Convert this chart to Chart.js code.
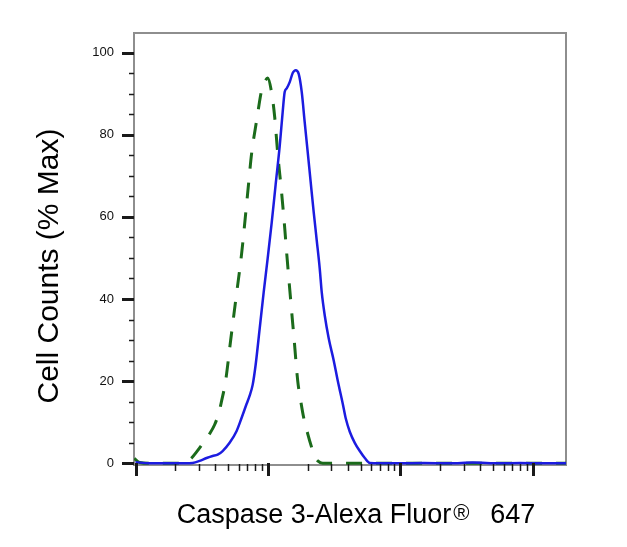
<!DOCTYPE html>
<html>
<head>
<meta charset="utf-8">
<script src="https://cdn.jsdelivr.net/npm/chart.js@4"></script>
<style>
html,body{margin:0;padding:0;background:#ffffff;}
#wrap{width:627px;height:547px;}
</style>
</head>
<body>
<div id="wrap"><canvas id="c" width="627" height="547"></canvas></div>
<script>
// ---- data ----
const controlX = [9.8, 10.72, 12.76, 22.0, 24.72, 26.5, 28.91, 32.1, 36.25, 39.55, 42.41, 44.67, 47.89, 52.24, 57.0, 63.27, 70.23, 75.3, 82.15, 89.65, 94.43, 99.47, 106.7, 112.4, 118.4, 126.9, 133.7, 138.5, 148.5, 157.8, 167.7, 176.7, 186.1, 199.6, 214.0, 225.4, 237.5, 259.2, 989.7, 17780];
const controlY = [1.2, 0.2, 0, 0, 0.4, 1.3, 2.8, 4.8, 7.2, 9.4, 12.1, 15.2, 20.1, 29.9, 39.6, 51.1, 65.7, 75.5, 83.5, 90.9, 92.8, 93.8, 90.1, 84.3, 75.5, 65.7, 57.4, 51.1, 39.6, 29.9, 20.1, 15.2, 11.1, 7.2, 3.8, 1.6, 0.6, 0, 0, 0];

const stainedX = [10, 12.76, 18.07, 23.46, 26.97, 30.46, 34.41, 38.19, 41.67, 45.47, 51.34, 58.0, 63.27, 69.02, 72.73, 76.63, 80.72, 86.56, 92.79, 99.47, 106.7, 114.3, 122.6, 129.1, 133.7, 138.5, 145.9, 153.7, 162.0, 170.6, 179.8, 189.4, 199.6, 210.2, 221.5, 233.4, 245.9, 254.7, 268.3, 287.6, 313.8, 336.4, 366.9, 386.7, 414.6, 452.1, 493.3, 538.2, 587.1, 698.9, 989.7, 1500, 2363, 3500, 5640, 8000, 12000, 17780];
const stainedY = [0.3, 0, 0, 0, 0.1, 0.6, 1.3, 1.8, 2.1, 3.0, 5.0, 7.9, 11.1, 14.5, 16.5, 19.1, 24.0, 32.8, 41.6, 49.9, 58.6, 67.9, 77.2, 85.5, 90.4, 91.3, 92.8, 95.0, 95.7, 94.8, 90.4, 83.0, 75.7, 68.4, 61.1, 54.3, 47.4, 41.6, 36.0, 30.4, 25.0, 20.1, 14.5, 10.9, 7.7, 5.0, 3.0, 1.3, 0.1, 0, 0, 0.1, 0, 0.2, 0, 0.1, 0, 0];

const yTickValues = [0,5,10,15,20,25,30,35,40,45,50,55,60,65,70,75,80,85,90,95,100];
const yLabelValues = [0,20,40,60,80,100];
const xMajorTicks = [10,100,1000,10000];
const xMinorTicks = [20,30,40,50,60,70,80,90,200,300,400,500,600,700,800,900,2000,3000,4000,5000,6000,7000,8000,9000];

const xTitleMain = 'Caspase 3-Alexa Fluor';
const xTitleMark = '®';
const xTitleTail = '647';
const yTitle = 'Cell Counts (% Max)';

const FONT = '"Liberation Sans", Arial, Helvetica, sans-serif';

const decorPlugin = {
  id: 'decor',
  beforeDatasetsDraw(chart) {
    const {ctx, chartArea: a} = chart;
    ctx.save();
    ctx.strokeStyle = '#8e8e8e';
    ctx.lineWidth = 2;
    ctx.strokeRect(a.left, a.top, a.right - a.left, a.bottom - a.top);
    ctx.restore();
  },
  afterDraw(chart) {
    const {ctx, chartArea: a} = chart;
    const xs = chart.scales.x, ys = chart.scales.y;
    ctx.save();
    ctx.strokeStyle = '#1a1a1a';
    ctx.lineCap = 'butt';
    // x ticks
    xMinorTicks.forEach(v => {
      const px = Math.round(xs.getPixelForValue(v)) + 0.5;
      ctx.lineWidth = 1.5;
      ctx.beginPath(); ctx.moveTo(px, a.bottom - 1); ctx.lineTo(px, a.bottom + 6); ctx.stroke();
    });
    xMajorTicks.forEach(v => {
      const px = Math.round(xs.getPixelForValue(v)) + 0.5;
      ctx.lineWidth = 3;
      ctx.beginPath(); ctx.moveTo(px, a.bottom - 2); ctx.lineTo(px, a.bottom + 11); ctx.stroke();
    });
    // y ticks
    yTickValues.forEach(v => {
      const py = Math.round(ys.getPixelForValue(v)) + 0.5;
      const major = yLabelValues.includes(v);
      ctx.lineWidth = major ? 3 : 1.5;
      ctx.beginPath(); ctx.moveTo(a.left - (major ? 12 : 5), py); ctx.lineTo(a.left, py); ctx.stroke();
    });
    // x title
    ctx.fillStyle = '#000000';
    ctx.textBaseline = 'alphabetic';
    ctx.textAlign = 'left';
    ctx.font = '27px ' + FONT;
    const wMain = ctx.measureText(xTitleMain).width;
    const wTail = ctx.measureText(xTitleTail).width;
    const markStep = 37;
    const total = wMain + 2 + markStep + wTail;
    const x0 = (a.left + a.right) / 2 + 6 - total / 2;
    const base = 523;
    ctx.fillText(xTitleMain, x0, base);
    ctx.font = '22px ' + FONT;
    ctx.fillText(xTitleMark, x0 + wMain + 2, base - 3.5);
    ctx.font = '27px ' + FONT;
    ctx.fillText(xTitleTail, x0 + wMain + 2 + markStep, base);
    // y title
    ctx.save();
    ctx.translate(50, (a.top + a.bottom) / 2 + 17);
    ctx.rotate(-Math.PI / 2);
    ctx.textAlign = 'center';
    ctx.textBaseline = 'middle';
    ctx.font = '30px ' + FONT;
    ctx.fillText(yTitle, 0, 0);
    ctx.restore();
    ctx.restore();
  }
};

new Chart(document.getElementById('c'), {
  type: 'line',
  data: {
    datasets: [
      {
        label: 'Control',
        data: controlX.map((x, i) => ({x: x, y: controlY[i]})),
        borderColor: '#1b6b1b',
        borderWidth: 3,
        borderDash: [16, 14],
        pointRadius: 0,
        fill: false,
        cubicInterpolationMode: 'monotone',
        order: 1
      },
      {
        label: 'Caspase 3',
        data: stainedX.map((x, i) => ({x: x, y: stainedY[i]})),
        borderColor: '#1c1ce0',
        borderWidth: 2.5,
        pointRadius: 0,
        fill: false,
        cubicInterpolationMode: 'monotone',
        order: 0
      }
    ]
  },
  options: {
    responsive: false,
    animation: false,
    layout: {padding: {top: 33, right: 61, left: 0, bottom: 0}},
    plugins: {legend: {display: false}, tooltip: {enabled: false}, title: {display: false}},
    scales: {
      x: {
        type: 'logarithmic',
        min: 9.74,
        max: 17780,
        afterBuildTicks: s => { s.ticks = xMajorTicks.concat(xMinorTicks).sort((p, q) => p - q).map(v => ({value: v})); },
        ticks: {display: false},
        grid: {display: false, drawTicks: false},
        border: {display: false},
        afterFit: s => { s.height = 82; }
      },
      y: {
        type: 'linear',
        min: -0.4,
        max: 104.75,
        afterBuildTicks: s => { s.ticks = yTickValues.map(v => ({value: v})); },
        ticks: {
          autoSkip: false,
          padding: 20,
          color: '#111111',
          font: {family: FONT, size: 13},
          callback: v => (yLabelValues.includes(v) ? String(v) : '')
        },
        grid: {display: false, drawTicks: false},
        border: {display: false},
        afterFit: s => { s.width = 134; }
      }
    }
  },
  plugins: [decorPlugin]
});
</script>
</body>
</html>
